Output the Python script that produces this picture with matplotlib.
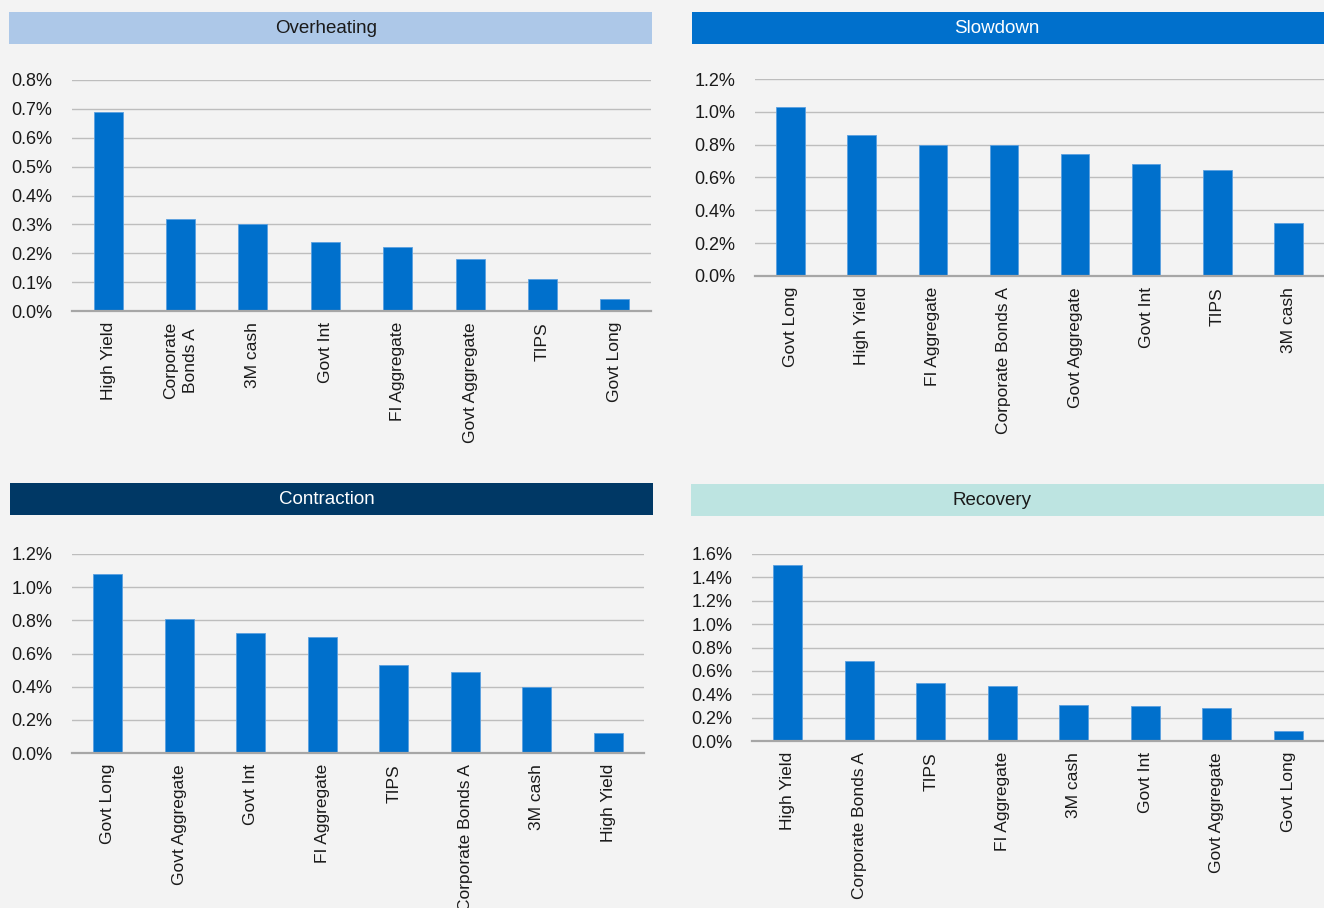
import numpy as np
import matplotlib
matplotlib.use("Agg")
import matplotlib.pyplot as plt
from matplotlib.ticker import FuncFormatter

# Rendimientos por fase del ciclo (en %)
overheating_labels = ["High Yield", "Corporate\nBonds A", "3M cash", "Govt Int",
                      "FI Aggregate", "Govt Aggregate", "TIPS", "Govt Long"]
overheating_values = [0.69, 0.32, 0.30, 0.24, 0.22, 0.18, 0.11, 0.04]

slowdown_labels = ["Govt Long", "High Yield", "FI Aggregate", "Corporate Bonds A",
                   "Govt Aggregate", "Govt Int", "TIPS", "3M cash"]
slowdown_values = [1.03, 0.86, 0.80, 0.795, 0.745, 0.683, 0.644, 0.32]

contraction_labels = ["Govt Long", "Govt Aggregate", "Govt Int", "FI Aggregate",
                      "TIPS", "Corporate Bonds A", "3M cash", "High Yield"]
contraction_values = [1.078, 0.808, 0.725, 0.697, 0.529, 0.491, 0.399, 0.118]

recovery_labels = ["High Yield", "Corporate Bonds A", "TIPS", "FI Aggregate",
                   "3M cash", "Govt Int", "Govt Aggregate", "Govt Long"]
recovery_values = [1.503, 0.688, 0.497, 0.468, 0.311, 0.303, 0.286, 0.086]

W, H = 1324, 908
BG = "#f3f3f3"
BAR = "#0070cc"
TXT = "#1a1a1a"

plt.rcParams['font.family'] = ['Liberation Sans', 'DejaVu Sans']

fig = plt.figure(figsize=(W / 100, H / 100), dpi=100, facecolor=BG)


def px_axes(x0, y0, x1, y1, **kw):
    # coordenadas en pixeles (origen arriba-izquierda)
    return fig.add_axes([x0 / W, 1 - y1 / H, (x1 - x0) / W, (y1 - y0) / H], **kw)


def header(box, title, color, txtcolor, xc):
    ax = px_axes(*box, facecolor=color)
    ax.set_xticks([]), ax.set_yticks([])
    for s in ax.spines.values():
        s.set_visible(False)
    fx = (xc - box[0]) / (box[2] - box[0])
    ax.text(fx, 0.47, title, ha='center', va='center', fontsize=13.5,
            color=txtcolor, transform=ax.transAxes)


def panel(box, labels, values, ymax, step):
    ax = px_axes(*box, facecolor=BG)
    x = np.arange(len(labels))
    ax.bar(x, values, width=0.4, color=BAR, edgecolor="#5aa0e0", linewidth=0.6, zorder=3)
    ax.set_xlim(-0.5, len(labels) - 0.5)
    ax.set_ylim(0, ymax)
    ax.set_yticks(np.arange(0, ymax + step / 2, step))
    ax.yaxis.set_major_formatter(FuncFormatter(lambda v, p: f"{v:.1f}%"))
    ax.grid(axis='y', color="#bdbdbd", linewidth=1.0, zorder=0)
    ax.set_xticks(x)
    ax.set_xticklabels(labels, rotation=90, fontsize=12.5, color=TXT, linespacing=1.35)
    ax.tick_params(axis='y', length=0, pad=14, labelsize=13, labelcolor=TXT)
    ax.tick_params(axis='x', length=0, pad=8)
    for s in ['top', 'right', 'left']:
        ax.spines[s].set_visible(False)
    ax.spines['bottom'].set_color("#a6a6a6")
    ax.spines['bottom'].set_linewidth(1.6)
    ax.spines['bottom'].set_zorder(4)
    return ax


header((9, 12, 652, 44), "Overheating", "#adc8e8", TXT, 326)
header((692, 12, 1324, 44), "Slowdown", "#0070cc", "white", 997)
header((10, 483, 653, 515), "Contraction", "#003865", "white", 327)
header((691, 484, 1324, 516), "Recovery", "#bde4e1", TXT, 992)

panel((72, 80, 651, 311), overheating_labels, overheating_values, 0.8, 0.1)
panel((755, 79, 1324, 276), slowdown_labels, slowdown_values, 1.2, 0.2)
panel((72, 554, 644, 753), contraction_labels, contraction_values, 1.2, 0.2)
panel((752, 554, 1324, 741), recovery_labels, recovery_values, 1.6, 0.2)

fig.savefig("out.png", dpi=100, facecolor=BG)
